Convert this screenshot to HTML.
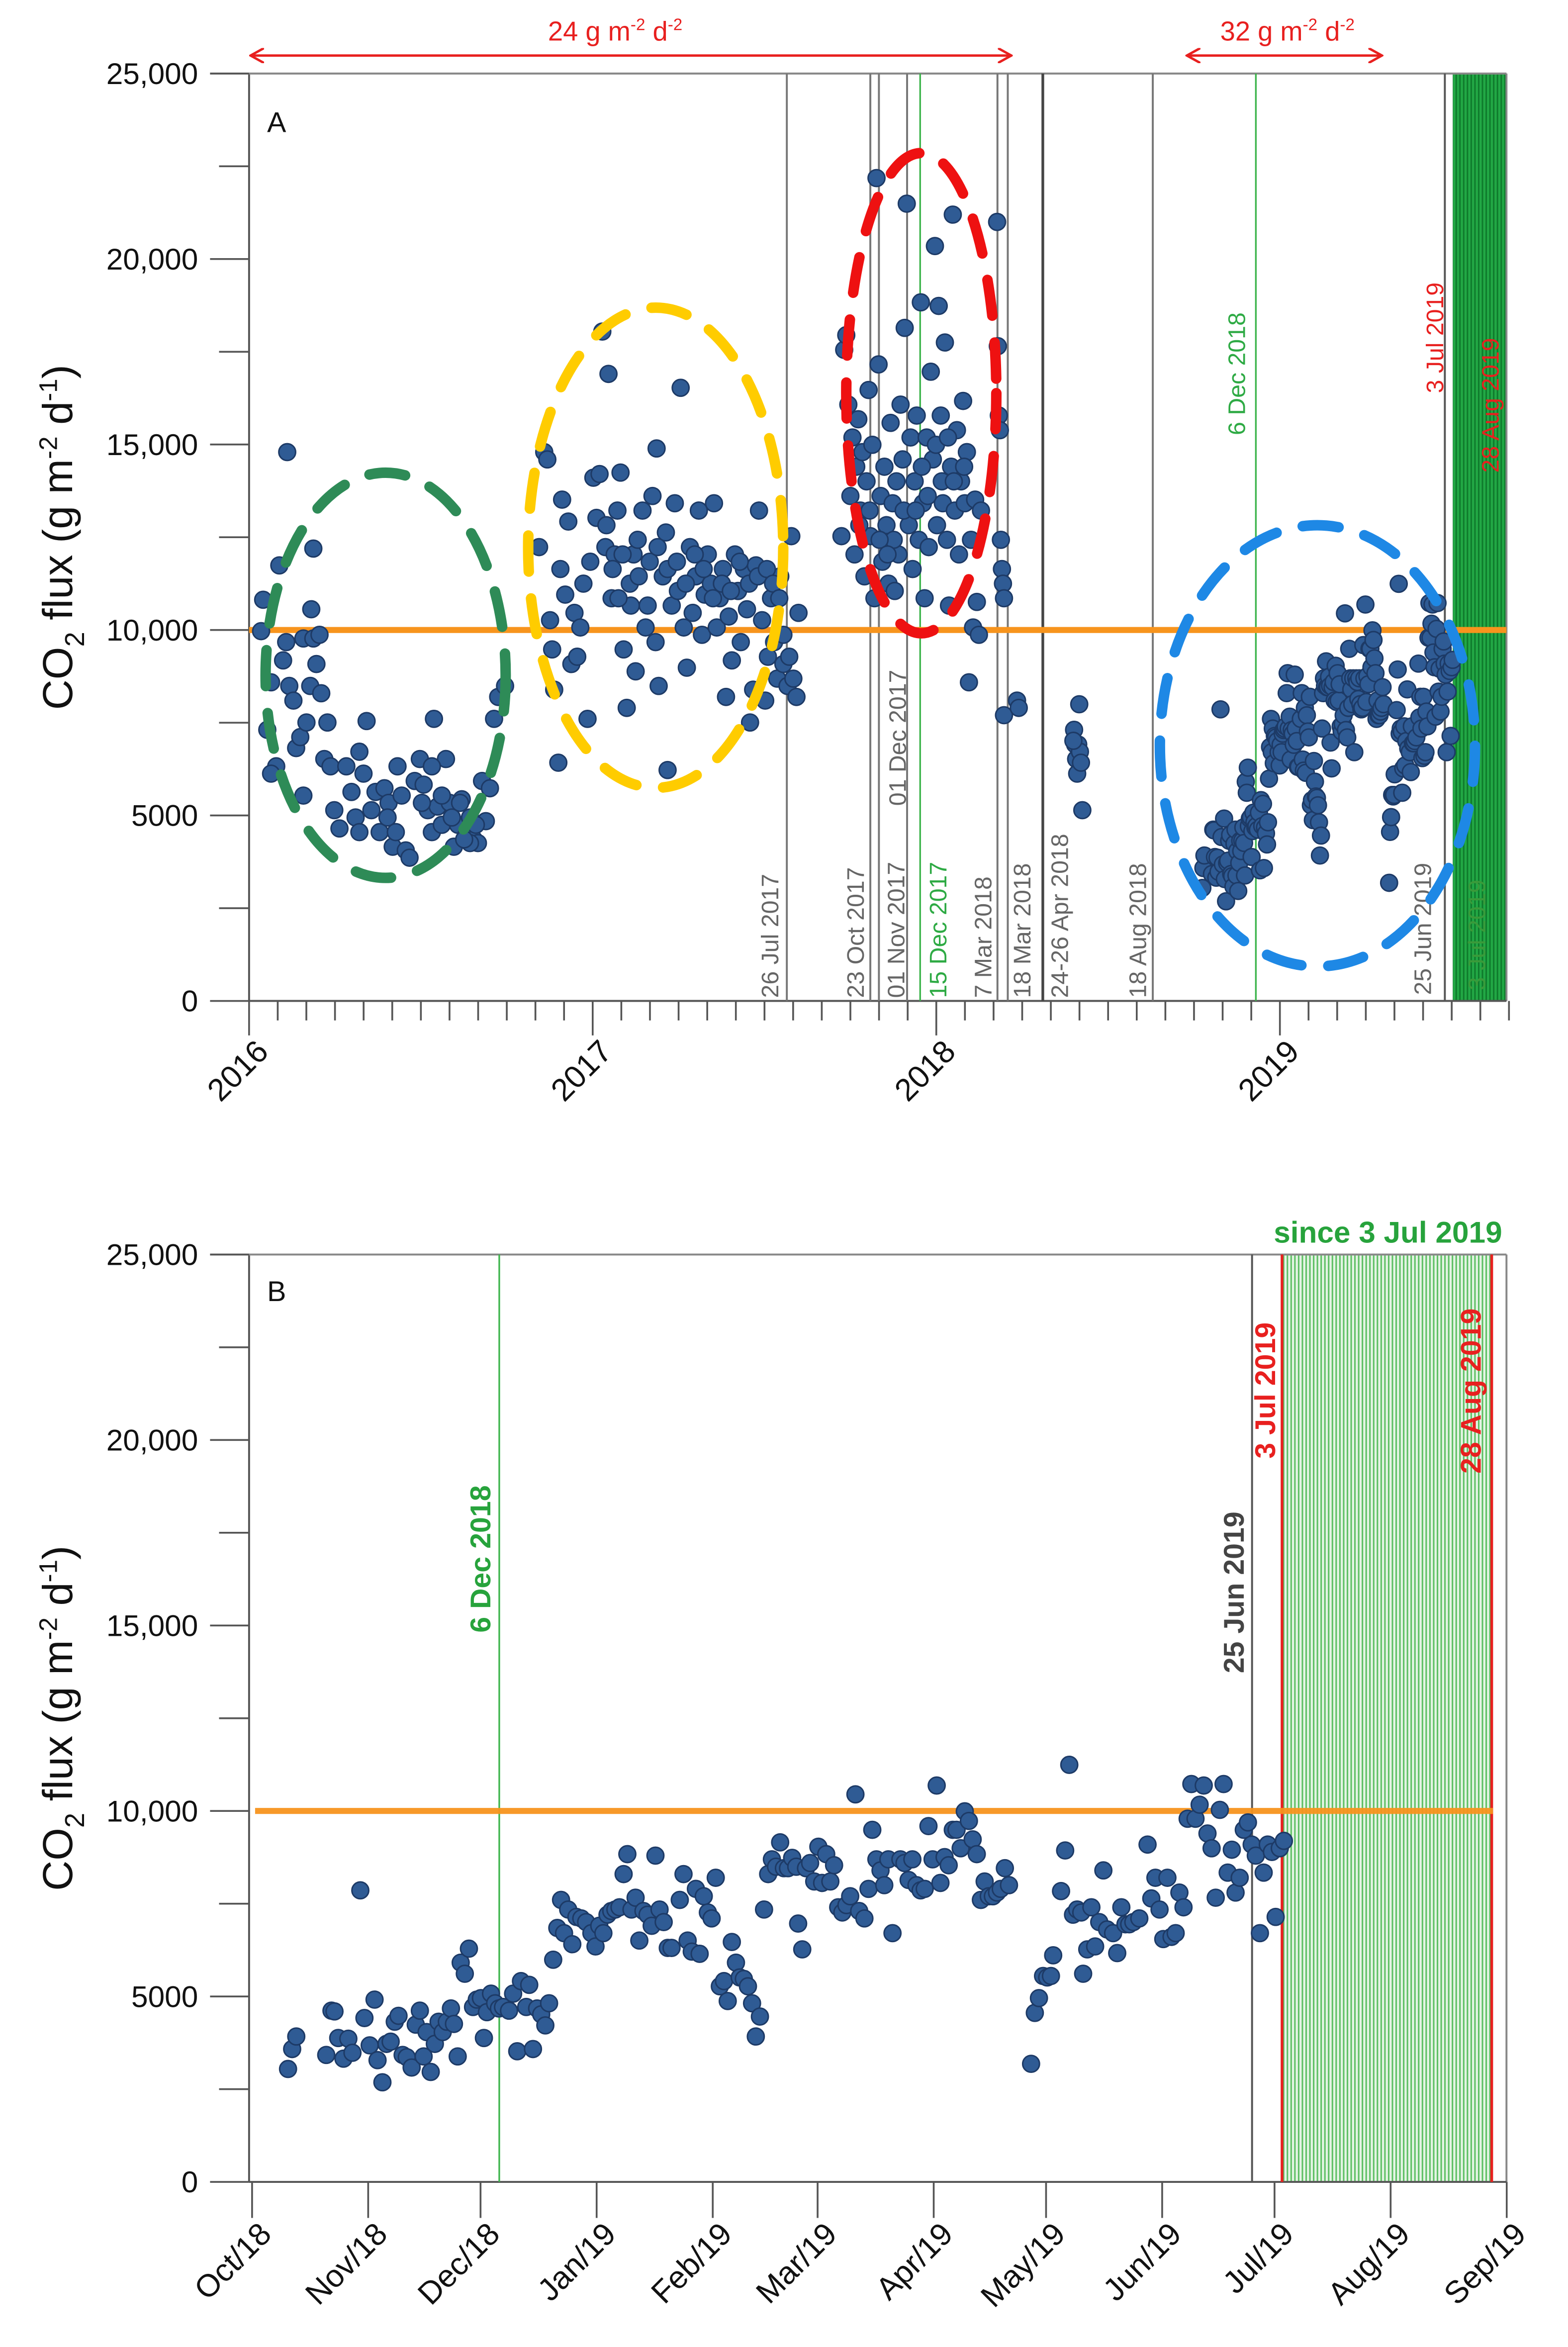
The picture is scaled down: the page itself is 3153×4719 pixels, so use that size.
<!DOCTYPE html>
<html><head><meta charset="utf-8"><style>
html,body{margin:0;padding:0;background:#fff}
svg{display:block;font-family:"Liberation Sans",sans-serif}
</style></head><body>
<svg id="chart" width="3153" height="4719" viewBox="0 0 1045 1564" xmlns="http://www.w3.org/2000/svg">
<defs>
<pattern id="hatchB" patternUnits="userSpaceOnUse" width="2.5" height="10"><rect width="2.5" height="10" fill="#e4f4e4"/><rect width="1" height="10" fill="#5cbf62"/></pattern>
<pattern id="hatchA" patternUnits="userSpaceOnUse" width="2.5" height="10"><rect width="2.5" height="10" fill="#22a845"/><rect width="1" height="10" fill="#0f7a2c"/></pattern>
<marker id="arr" markerWidth="10" markerHeight="10" refX="9" refY="5" orient="auto-start-reverse" markerUnits="userSpaceOnUse"><path d="M0,0 L9,5 L0,10" fill="none" stroke="#e8201f" stroke-width="1.6"/></marker>
</defs>
<g id="panelA"></g>
<g id="panelB"></g>
</svg>
<script>
// ---- Panel A: early data (decimal year, flux) ----
const earlyYears=[2016.035,2016.041,2016.053,2016.064,2016.079,2016.088,2016.099,2016.108,2016.117,2016.129,2016.137,2016.149,2016.158,2016.167,2016.178,2016.187,2016.196,2016.205,2016.210,2016.219,2016.228,2016.237,2016.248,2016.263,2016.283,2016.298,2016.310,2016.321,2016.333,2016.342,2016.356,2016.368,2016.380,2016.394,2016.406,2016.418,2016.432,2016.444,2016.456,2016.467,2016.482,2016.497,2016.508,2016.520,2016.532,2016.538,2016.549,2016.561,2016.573,2016.584,2016.596,2016.608,2016.619,2016.631,2016.643,2016.654,2016.666,2016.678,2016.689,2016.701,2016.713,2016.725,2016.745,2016.111,2016.187,2016.181,2016.321,2016.158,2016.064,2016.532,2016.643,2016.561,2016.590,2016.614,2016.626,2016.660,2016.403,2016.427,2016.503,
2016.844,2016.859,2016.868,2016.876,2016.882,2016.888,2016.900,2016.906,2016.911,2016.920,2016.929,2016.938,2016.947,2016.955,2016.964,2016.973,2016.985,2016.993,2017.002,2017.011,2017.020,2017.028,2017.037,2017.046,2017.055,2017.064,2017.072,2017.081,2017.090,2017.099,2017.108,2017.119,2017.125,2017.134,2017.145,2017.154,2017.166,2017.174,2017.183,2017.186,2017.192,2017.204,2017.213,2017.218,2017.230,2017.239,2017.248,2017.256,2017.265,2017.274,2017.283,2017.291,2017.300,2017.309,2017.318,2017.326,2017.335,2017.344,2017.353,2017.361,2017.370,2017.379,2017.388,2017.396,2017.405,2017.414,2017.423,2017.431,2017.440,2017.449,2017.458,2017.467,2017.475,2017.484,2017.493,2017.502,2017.510,2017.519,2017.528,2017.537,2017.546,2017.555,2017.567,2017.578,2017.584,2017.593,2017.599,2017.087,2017.111,2017.131,2017.160,2017.189,2017.218,2017.245,2017.271,2017.297,2017.323,2017.350,2017.376,2017.402,2017.428,2017.455,2017.481,2017.507,2017.525,2017.543,2017.555,2017.572,2017.040,2017.058,2017.075,
2017.724,2017.732,2017.738,2017.744,2017.750,2017.756,2017.762,2017.767,2017.773,2017.779,2017.785,2017.791,2017.797,2017.803,2017.808,2017.814,2017.820,2017.826,2017.832,2017.838,2017.843,2017.849,2017.855,2017.861,2017.867,2017.873,2017.879,2017.884,2017.890,2017.896,2017.902,2017.908,2017.914,2017.920,2017.925,2017.931,2017.937,2017.943,2017.949,2017.955,2017.961,2017.966,2017.972,2017.978,2017.984,2017.990,2017.996,2018.002,2018.007,2018.013,2018.019,2018.025,2018.031,2018.037,2018.043,2018.048,2018.054,2018.060,2018.066,2018.072,2018.078,2018.083,2018.089,2018.095,2018.101,2018.107,2018.113,2018.118,2018.124,2018.130,2018.177,2018.179,2018.182,2018.185,2018.188,2018.191,2018.194,2018.197,2018.197,2018.235,2018.240,2017.876,2017.905,2017.940,2017.958,2017.975,2017.999,2018.016,2018.034,2018.051,2018.081,2017.776,2017.806,2017.835,2017.858,
2018.401,2018.404,2018.407,2018.410,2018.413,2018.416,2018.418,2018.421,2018.425,2018.399];
const earlyValues=[9968,10815,7309,8589,6324,11741,9180,9673,8491,8097,6816,7112,9771,7506,8491,9771,9082,9870,8294,6521,7506,6324,5142,4649,6324,5634,4945,6718,6127,7545,5142,5634,4551,5733,5339,4157,6324,5536,4058,3861,5930,6521,5831,5142,4551,7604,5240,4748,6521,5339,4157,4748,5437,4452,4945,4354,4255,5930,4846,5733,7604,8195,8491,14795,12194,10559,4551,5536,6127,6324,4255,5536,4945,5339,4354,4748,4945,4551,5339,
12234,14795,14598,10264,9476,8392,6422,11643,13514,10953,12923,9082,10461,9279,10067,11249,7604,11840,14105,13022,14204,18045,12234,16903,10855,12037,13219,14243,9476,7900,11249,12037,8885,11446,13219,10067,11840,13612,9673,14893,8491,11446,12628,6225,10658,13416,11052,16528,10067,8983,12234,10461,11446,13219,9870,10953,12037,11249,13416,10067,10855,11643,8195,10362,9180,12037,11052,9673,11643,10559,7506,8392,11741,13219,10264,8097,9279,10855,9673,8688,11446,9082,8491,12529,8688,8195,10461,12037,10658,12431,10658,12234,11643,11840,11249,12037,11643,10855,11249,11052,11840,11249,11446,11643,11249,10855,9870,9279,12825,11643,10855,
12529,17553,17947,16075,13612,15189,12037,14401,15681,13219,14795,11446,14007,16469,12529,14992,10855,22182,17159,13612,11840,14401,12825,11249,15583,13416,11052,14007,12037,16075,14598,18144,21492,12825,15189,11643,14007,15780,12431,18833,13416,10855,15189,12234,16962,14598,20350,12825,18735,15780,13416,17750,12431,10658,14401,21197,13219,15386,12037,14007,16174,13416,14795,8589,12431,10067,13514,10756,9870,13219,21000,17651,15780,15386,12431,11643,11249,10855,7703,8097,7900,12431,13219,13219,14401,13612,14992,14007,15189,14007,14401,12825,13219,12431,12037,
7309,6915,6521,6127,6915,7998,6718,6422,5142,7013];

// ---- Panel B data (days since 1 Oct 2018, flux) ----
const bDays=[9.6,10.7,11.8,19.8,21.2,22.0,23.0,24.4,25.7,26.8,28.9,30.0,31.4,32.7,33.5,34.8,35.9,37.0,38.1,39.1,40.2,41.3,42.6,43.7,44.8,45.8,46.6,47.7,48.8,49.8,50.9,52.0,53.1,53.9,54.9,55.7,56.8,57.9,59.0,60.0,61.1,61.9,62.7,63.8,64.9,65.9,67.0,68.6,69.7,70.8,71.8,73.2,74.0,75.0,76.1,77.2,78.3,79.3,80.4,81.5,82.5,83.3,84.4,85.5,86.6,87.9,89.2,90.6,91.7,92.7,93.8,94.9,95.9,97.0,98.1,99.2,100.2,101.3,102.4,103.4,104.5,105.6,106.7,107.7,108.8,109.9,111.0,112.0,114.2,115.2,116.3,117.4,118.5,119.5,120.6,121.7,122.7,123.8,124.9,126.0,127.0,128.1,129.2,130.2,131.3,132.4,133.5,134.5,135.6,136.7,137.8,138.8,139.9,141.0,142.0,143.1,144.2,145.3,145.8,146.9,147.9,149.0,150.1,151.2,152.2,153.3,154.4,155.4,156.5,157.6,158.7,159.7,161.1,162.1,163.5,164.6,165.6,166.7,167.8,168.8,169.9,171.0,173.1,174.2,175.3,176.3,177.4,178.5,179.6,180.6,181.7,182.8,183.8,184.9,186.0,187.1,188.1,189.2,190.3,191.4,192.4,193.5,194.6,195.6,196.7,197.8,198.9,199.9,201.0,202.1,208.0,209.0,210.1,211.2,212.3,213.3,213.9,216.0,217.1,218.2,219.2,220.3,221.4,221.9,223.0,224.1,225.1,226.2,227.3,228.3,229.9,231.0,232.1,233.2,234.2,235.3,236.9,239.1,240.1,241.2,242.3,243.3,244.4,245.5,246.6,247.6,248.7,249.8,250.8,251.9,253.0,254.1,255.1,256.2,257.3,258.4,259.4,260.5,261.6,262.6,263.7,264.8,265.9,266.9,268.0,269.1,270.1,271.2,272.3,273.3,274.4,275.5];
const bValues=[3045,3582,3920,3423,4617,4597,3880,3323,3861,3482,7860,4418,3681,4915,3283,2686,3721,3781,4318,4477,3423,3363,3084,4239,4617,3383,4040,2965,3721,4318,4040,4318,4676,4259,3383,5910,5612,6288,4716,4915,4955,3880,4577,5075,4816,4676,4716,4617,5075,3522,5413,4716,5313,3582,4676,4517,4219,4816,5990,6846,7602,6706,7343,6408,7144,7104,7005,6706,6348,6905,6706,7204,7303,7343,7403,8298,8836,7343,7662,6507,7303,7204,6905,8796,7343,7005,6308,6308,7602,8298,6507,6209,7900,6149,7701,7264,7104,8199,5274,5413,4876,6468,5910,5512,5473,5274,4816,3920,4458,7343,8298,8696,8497,9154,8458,8458,8736,8497,6965,6269,8458,8597,8099,9035,8060,8836,8099,8537,7403,7264,7463,7701,10448,7303,7104,7900,9492,8696,8398,8000,8696,6706,8696,8597,8139,8696,8000,7860,7900,9592,8696,10686,8060,8756,8537,9492,9492,8995,9990,9731,9234,8836,7602,8099,7701,7701,7801,7900,8458,8000,3184,4557,4955,5552,5512,5552,6109,7840,8935,11244,7204,7343,7264,5612,6269,7403,6348,7005,8398,6806,6706,6169,7403,6945,6945,7005,7104,9094,7642,8199,7343,6547,8199,6607,6706,7801,7403,9791,10726,9791,10169,10686,9393,8995,7662,10030,10726,8338,8955,7801,8199,9492,9691,9094,8796,6706,8338,9094,8895,7144,8995,9194];

const yTicks=[0,5000,10000,15000,20000,25000];
const yTickLabels=["0","5000","10,000","15,000","20,000","25,000"];
const yearTicks=[2016,2017,2018,2019];
const monthLabelsB=["Oct/18","Nov/18","Dec/18","Jan/19","Feb/19","Mar/19","Apr/19","May/19","Jun/19","Jul/19","Aug/19","Sep/19"];
const monthDaysB=[0,31,61,92,123,151,182,212,243,273,304,335];
const threshold=10000;

const NS="http://www.w3.org/2000/svg";
function mk(parent,tag,attrs,text){const e=document.createElementNS(NS,tag);for(const k in attrs)e.setAttribute(k,attrs[k]);if(text!==undefined)e.textContent=text;parent.appendChild(e);return e;}

// scales
const xA=y=>166+(y-2016)*229;
const yA=v=>667-v*0.02472;
const xB=d=>168+d*2.496;
const yB=v=>1454-v*0.02472;
const dayToYear=d=>2018.748+d/365;

const A=document.getElementById('panelA');
const B=document.getElementById('panelB');

function yAxis(g,ys,top){
  const ax=mk(g,'g',{});
  
  
  mk(ax,'line',{x1:166,y1:ys(0),x2:166,y2:ys(25000),stroke:'#555','stroke-width':1.3});
  mk(ax,'line',{x1:140,y1:ys(25000),x2:1004,y2:ys(25000),stroke:'#888','stroke-width':1.3});
  mk(ax,'line',{x1:1004,y1:ys(25000),x2:1004,y2:ys(0),stroke:'#888','stroke-width':1.3});
  for(let v=0;v<=25000;v+=2500){const maj=v%5000===0;mk(ax,'line',{x1:maj?140:146,y1:ys(v),x2:166,y2:ys(v),stroke:'#555','stroke-width':1.2});}
  yTicks.forEach((v,i)=>{const t=mk(ax,'text',{x:132,y:ys(v)+7,'text-anchor':'end','font-size':20,fill:'#111'},yTickLabels[i]);
    });
  const tt=mk(ax,'text',{transform:`translate(48,${(ys(0)+ys(25000))/2}) rotate(-90)`,'text-anchor':'middle','font-size':28,fill:'#111'});
  
  tt.innerHTML='CO<tspan font-size="18" dy="8">2</tspan><tspan dy="-8"> flux (g m</tspan><tspan font-size="17" dy="-10">-2</tspan><tspan dy="10"> d</tspan><tspan font-size="17" dy="-10">-1</tspan><tspan dy="10">)</tspan>';
}

function vline(g,x,y1,y2,color,w,name){const l=mk(g,'line',{x1:x,y1:y1,x2:x,y2:y2,stroke:color,'stroke-width':w});return l;}
function vlabel(g,cx,bottom,txt,color,size,bold,name){const t=mk(g,'text',{transform:`translate(${cx+size*0.36},${bottom}) rotate(-90)`,'font-size':size,fill:color,'font-weight':bold?'bold':'normal'},txt);return t;}
function dot(g,x,y){const c=mk(g,'circle',{cx:x,cy:y,r:5.6,fill:'#2f5b94',stroke:'#1d3a66','stroke-width':1});}

// ===== Panel A =====
(function(){
  // band
  const band=mk(A,'rect',{x:xA(2019.503),y:yA(25000),width:1004-xA(2019.503),height:yA(0)-yA(25000),fill:'url(#hatchA)'});
  
  yAxis(A,yA);
  // x axis
  const xa=mk(A,'g',{});
  mk(xa,'line',{x1:166,y1:667,x2:1004,y2:667,stroke:'#555','stroke-width':1.3});
  for(let m=0;m<=44;m++){const x=xA(2016+m/12);const maj=m%12===0;mk(xa,'line',{x1:x,y1:667,x2:x,y2:maj?690:680,stroke:'#555','stroke-width':1.2});}
  yearTicks.forEach(y=>{const t=mk(xa,'text',{transform:`translate(${xA(y)+14},${702}) rotate(-45)`,'text-anchor':'end','font-size':21,fill:'#111'},String(y));});
  // events
  const ev=[[2017.565,'#777',1.3],[2017.808,'#777',1.3],[2017.833,'#777',1.3],[2017.915,'#777',1.3],[2017.953,'#3cb44b',1.1],[2018.178,'#777',1.3],[2018.208,'#777',1.3],[2018.31,'#444',1.8],[2018.63,'#777',1.3],[2018.93,'#3cb44b',1.1],[2019.48,'#555',1.3]];
  ev.forEach(e=>vline(A,xA(e[0]),yA(25000),667,e[1],e[2],'event-line'));
  const lbl=[[513,665,'26 Jul 2017','#666'],[570,665,'23 Oct 2017','#666'],[597,665,'01 Nov 2017','#666'],[598,537,'01 Dec 2017','#666'],[625,665,'15 Dec 2017','#2eaa44'],[655,665,'7 Mar 2018','#666'],[681,665,'18 Mar 2018','#666'],[706,665,'24-26 Apr 2018','#666'],[758,665,'18 Aug 2018','#666'],[824,290,'6 Dec 2018','#2eaa44'],[948,663,'25 Jun 2019','#666'],[956,262,'3 Jul 2019','#e8201f'],[993,315,'28 Aug 2019','#e8201f'],[984,660,'3 Jul 2019','#3a9a3a']];
  lbl.forEach(l=>vlabel(A,l[0],l[1],l[2],l[3],16,false,'event-label'));
  // threshold
  const th=mk(A,'line',{x1:166,y1:yA(threshold),x2:1004,y2:yA(threshold),stroke:'#f7941d','stroke-width':4});
  
  // points
  const pts=mk(A,'g',{});
  earlyYears.forEach((y,i)=>dot(pts,xA(y),yA(earlyValues[i])));
  bDays.forEach((d,i)=>dot(pts,xA(dayToYear(d)),yA(bValues[i])));
  // ellipses
  const el=[[257,450,80,135,'#2e8b57'],[437,365,85,160,'#ffcc00'],[614,262,50,160,'#ee1111'],[878,497,105,147,'#1e88e5']];
  el.forEach(e=>{const o=mk(A,'ellipse',{cx:e[0],cy:e[1],rx:e[2],ry:e[3],fill:'none',stroke:e[4],'stroke-width':7,'stroke-dasharray':'24 18','stroke-linecap':'round'});});
  // arrows
  [[167,674,410,'24'],[791,921,858,'32']].forEach(a=>{
    const l=mk(A,'line',{x1:a[0],y1:37,x2:a[1],y2:37,stroke:'#e8201f','stroke-width':1.6,'marker-start':'url(#arr)','marker-end':'url(#arr)'});
    
    const t=mk(A,'text',{x:a[2],y:27,'text-anchor':'middle','font-size':18,fill:'#e8201f'});
    
    t.innerHTML=a[3]+' g m<tspan font-size="11" dy="-7">-2</tspan><tspan dy="7"> d</tspan><tspan font-size="11" dy="-7">-2</tspan>';
  });
  const pl=mk(A,'text',{x:178,y:88,'font-size':19,fill:'#111'},'A');
})();

// ===== Panel B =====
(function(){
  const band=mk(B,'rect',{x:xB(275),y:yB(25000),width:xB(331)-xB(275),height:yB(0)-yB(25000),fill:'url(#hatchB)'});
  
  yAxis(B,yB);
  const xa=mk(B,'g',{});
  mk(xa,'line',{x1:166,y1:1454,x2:1004,y2:1454,stroke:'#555','stroke-width':1.3});
  monthDaysB.forEach((d,i)=>{const x=xB(d);mk(xa,'line',{x1:x,y1:1454,x2:x,y2:1478,stroke:'#555','stroke-width':1.2});
    const t=mk(xa,'text',{transform:`translate(${x+14},${1490}) rotate(-45)`,'text-anchor':'end','font-size':21,fill:'#111'},monthLabelsB[i]);});
  vline(B,xB(66),yB(25000),1454,'#3cb44b',1.1,'event-line');
  vline(B,xB(267),yB(25000),1454,'#555',1.3,'event-line');
  vline(B,xB(275),yB(25000),1454,'#e8201f',1.8,'event-line');
  vline(B,xB(331),yB(25000),1454,'#e8201f',1.8,'event-line');
  vlabel(B,320,1088,'6 Dec 2018','#27a33c',19,true,'event-label');
  vlabel(B,822,1115,'25 Jun 2019','#444',19,true,'event-label');
  vlabel(B,843,972,'3 Jul 2019','#e8201f',19,true,'event-label');
  vlabel(B,980,982,'28 Aug 2019','#e8201f',19,true,'event-label');
  const s=mk(B,'text',{x:925,y:828,'text-anchor':'middle','font-size':20,'font-weight':'bold',fill:'#27a33c'},'since 3 Jul 2019');
  
  const th=mk(B,'line',{x1:170,y1:yB(threshold),x2:995,y2:yB(threshold),stroke:'#f7941d','stroke-width':4,'stroke-opacity':0.95});
  
  const pts=mk(B,'g',{});
  bDays.forEach((d,i)=>dot(pts,xB(d),yB(bValues[i])));
  const pl=mk(B,'text',{x:178,y:867,'font-size':19,fill:'#111'},'B');
})();
</script>
</body></html>
